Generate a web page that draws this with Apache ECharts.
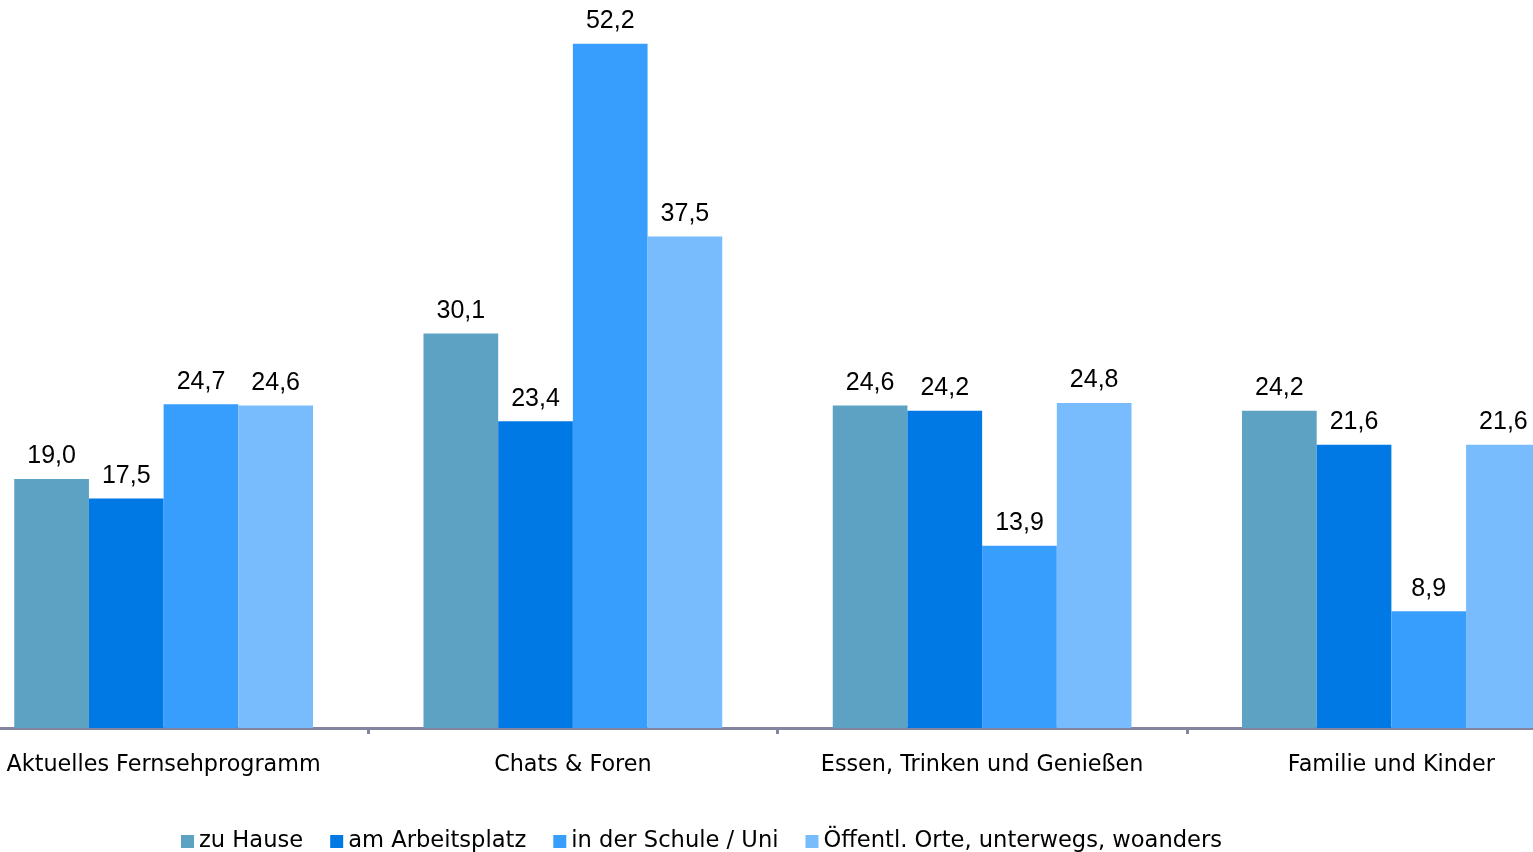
<!DOCTYPE html>
<html><head><meta charset="utf-8">
<script src="https://cdn.jsdelivr.net/npm/echarts@6/dist/echarts.min.js"></script>
<style>html,body{margin:0;padding:0;background:#fff}#c{width:1533px;height:852px}</style>
</head><body><div id="c"></div>
<script>
const categories = ['Aktuelles Fernsehprogramm', 'Chats & Foren', 'Essen, Trinken und Genießen', 'Familie und Kinder'];
const seriesNames = ['zu Hause', 'am Arbeitsplatz', 'in der Schule / Uni', 'Öffentl. Orte, unterwegs, woanders'];
const zuHause = [19.0, 30.1, 24.6, 24.2];
const amArbeitsplatz = [17.5, 23.4, 24.2, 21.6];
const inDerSchule = [24.7, 52.2, 13.9, 8.9];
const oeffentlich = [24.6, 37.5, 24.8, 21.6];
const colors = ['#5DA2C2', '#0079E5', '#389EFE', '#78BCFD'];
const values = [zuHause, amArbeitsplatz, inDerSchule, oeffentlich];

const chart = echarts.init(document.getElementById('c'));
chart.setOption({
  animation: false,
  legend: {
    top: 825, left: 176,
    itemWidth: 13, itemHeight: 13, itemGap: 27,
    icon: 'rect',
    textStyle: { fontFamily: 'DejaVu Sans', fontSize: 22.6, color: '#000' },
    data: seriesNames
  },
  grid: { left: -41, width: 1637, top: 7, height: 721, containLabel: false, outerBoundsMode: 'none' },
  xAxis: {
    type: 'category', data: categories,
    axisLine: { lineStyle: { color: '#85849E', width: 3 } },
    axisTick: { show: true, interval: 0, length: 6, lineStyle: { color: '#85849E', width: 3 } },
    axisLabel: { interval: 0, fontFamily: 'DejaVu Sans', fontSize: 22.3, color: '#000', margin: 26 }
  },
  yAxis: { type: 'value', min: 0, max: 55, show: false, splitLine: { show: false } },
  series: values.map((v, i) => ({
    name: seriesNames[i], type: 'bar', data: v,
    barGap: '0%', barCategoryGap: '27%',
    itemStyle: { color: colors[i] },
    label: {
      show: true, position: 'top', distance: 10,
      fontFamily: 'Liberation Sans', fontSize: 25, color: '#000',
      formatter: p => p.value.toFixed(1).replace('.', ',')
    }
  }))
});
</script></body></html>
